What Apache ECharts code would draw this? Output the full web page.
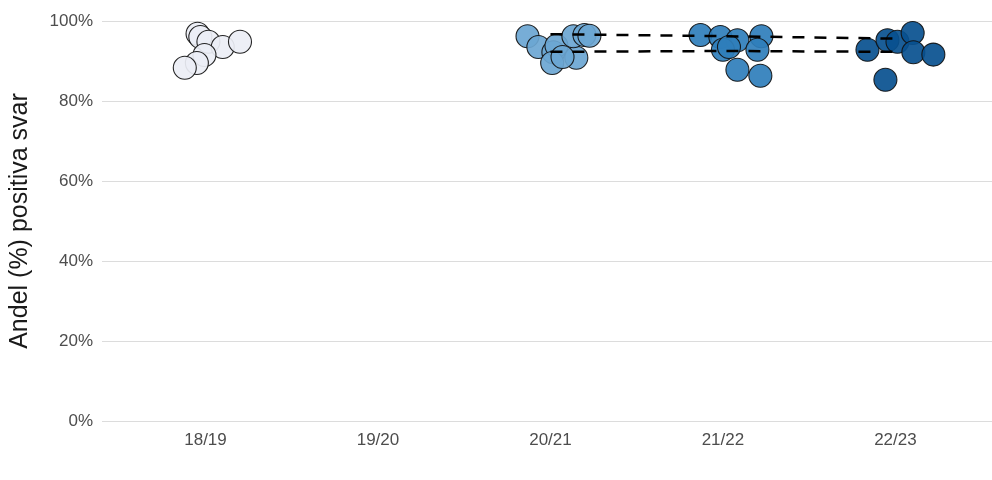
<!DOCTYPE html>
<html>
<head>
<meta charset="utf-8">
<script src="https://cdn.jsdelivr.net/npm/echarts@6/dist/echarts.min.js"></script>
<style>
html,body{margin:0;padding:0;background:#fff;}
#chart{width:992px;height:480px;}
</style>
</head>
<body>
<div id="chart"></div>
<script>
// Categories (school years)
const categories = ['18/19', '19/20', '20/21', '21/22', '22/23'];
const yTicks = [0, 20, 40, 60, 80, 100];
const colors = ['#ECEEF5', '#BDD7E7', '#6BA6D3', '#2F7EBB', '#08508F'];

// Share (%) of positive answers per unit, with horizontal jitter offsets (category units)
const val1819 = [96.8, 96.0, 94.8, 93.5, 94.8, 91.5, 89.5, 88.3];
const jit1819 = [-0.046, -0.03, 0.017, 0.10, 0.20, -0.006, -0.05, -0.12];

const val1920 = [];
const jit1920 = [];

const val2021 = [96.2, 93.5, 92.2, 93.8, 89.5, 90.8, 96.2, 96.5, 96.3, 91.0];
const jit2021 = [-0.133, -0.07, 0.017, 0.035, 0.01, 0.15, 0.133, 0.197, 0.226, 0.07];

const val2122 = [96.5, 96.0, 95.2, 96.2, 92.8, 93.5, 92.8, 87.8, 86.3];
const jit2122 = [-0.13, -0.015, 0.084, 0.223, 0.0, 0.035, 0.2, 0.084, 0.217];

const val2223 = [92.8, 95.2, 94.8, 97.0, 92.2, 91.6, 85.3];
const jit2223 = [-0.162, -0.046, 0.012, 0.10, 0.104, 0.22, -0.058];

// Reference lines (dashed) from 20/21 to 22/23
const refUpper = [96.7, 96.2, 95.6];
const refLower = [92.3, 92.5, 92.3];
const refCats = ['20/21', '21/22', '22/23'];

const seasonVals = [val1819, val1920, val2021, val2122, val2223];
const seasonJit = [jit1819, jit1920, jit2021, jit2122, jit2223];

const scatterSeries = categories.map((c, i) => ({
  name: c,
  type: 'scatter',
  symbolSize: 23,
  clip: false,
  itemStyle: { color: colors[i], borderColor: '#111', borderWidth: 1.1, opacity: 0.92 },
  data: seasonVals[i].map((v, k) => [i + 1 + seasonJit[i][k], v]),
  z: 2
}));

function refLine(vals) {
  return {
    type: 'line',
    symbol: 'none',
    silent: true,
    lineStyle: { color: '#000', width: 2.5, type: [12, 10] },
    data: refCats.map((c, k) => [categories.indexOf(c) + 1, vals[k]]),
    z: 5
  };
}

const font = 'Liberation Sans, Arial, sans-serif';
const chart = echarts.init(document.getElementById('chart'));
chart.setOption({
  animation: false,
  backgroundColor: '#fff',
  grid: { left: 100, right: 0, top: 21, height: 400 },
  xAxis: {
    type: 'value',
    min: 0.4,
    max: 5.56,
    splitLine: { show: false },
    axisLine: { show: false },
    axisTick: { show: false },
    axisLabel: {
      customValues: [1, 2, 3, 4, 5],
      formatter: v => categories[Math.round(v) - 1] || '',
      color: '#4d4d4d',
      fontSize: 17,
      fontFamily: font,
      margin: 11
    }
  },
  yAxis: {
    type: 'value',
    min: 0,
    max: 100,
    interval: 20,
    name: 'Andel (%) positiva svar',
    nameLocation: 'middle',
    nameGap: 69,
    nameRotate: 90,
    nameTextStyle: { color: '#1a1a1a', fontSize: 25, fontFamily: font },
    axisLine: { show: false },
    axisTick: { show: false },
    axisLabel: {
      formatter: v => yTicks.includes(v) ? v + '%' : '',
      color: '#4d4d4d',
      fontSize: 17,
      fontFamily: font,
      margin: 9
    },
    splitLine: { lineStyle: { color: '#dcdcdc', width: 1 } }
  },
  series: [...scatterSeries, refLine(refUpper), refLine(refLower)]
});
</script>
</body>
</html>
